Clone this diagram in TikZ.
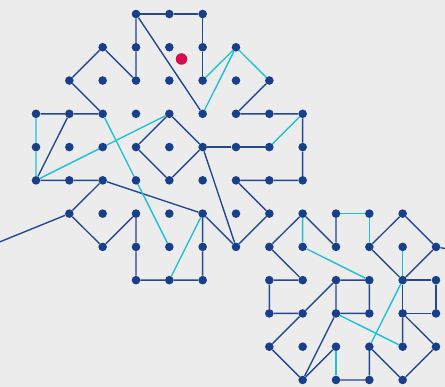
\documentclass[tikz,border=0pt]{standalone}
\usetikzlibrary{backgrounds}
\definecolor{bgc}{HTML}{ECECEC}
\definecolor{dotblue}{HTML}{173F8A}
\definecolor{lineblue}{HTML}{24498F}
\definecolor{cyanl}{HTML}{1EC1D7}
\definecolor{reddot}{HTML}{D90B4F}
\pgfdeclarelayer{edges}
\pgfdeclarelayer{back}
\pgfsetlayers{back,edges,main}
\begin{document}
\begin{tikzpicture}[x=1pt,y=-1pt,
  dot/.style={circle,fill=dotblue,inner sep=0pt,minimum size=8.6pt},
  reddotstyle/.style={circle,fill=reddot,inner sep=0pt,minimum size=11.5pt},
  bl/.style={draw=lineblue,line width=1.4pt,line join=round},
  cy/.style={draw=cyanl,line width=1.4pt,line join=round}]
\useasboundingbox (0,0) rectangle (445,387);
\begin{pgfonlayer}{back}
\fill[bgc] (0,0) rectangle (445,387);
\end{pgfonlayer}
\clip (0,0) rectangle (445,387);
\foreach \r/\a/\b in {0/3/5,1/2/6,2/1/7,3/0/8,4/0/8,5/0/8,6/1/11,7/2/12,8/3/5,8/7/12,9/7/12,10/7/12,11/8/11}{
  \foreach \c in {\a,...,\b}{
    \node[dot] (d-\c-\r) at ({36+33.333*\c},{14+33.27*\r}) {};
  }
}
\node[reddotstyle] (red) at (181.5,59) {};
\coordinate (offleft) at (-30,254);
\coordinate (offright) at (470,253);
\begin{pgfonlayer}{edges}
% cluster 1 blue
\draw[bl] (d-3-0) -- (d-4-0) -- (d-5-0) -- (d-5-1) -- (d-5-2);
\draw[bl] (d-3-0) -- (d-3-1) -- (d-3-2) -- (d-2-1) -- (d-1-2) -- (d-2-3) -- (d-1-3) -- (d-0-3);
\draw[bl] (d-3-0) -- (d-5-3);
\draw[bl] (d-1-3) -- (d-0-5) -- (d-1-5) -- (d-2-5) -- (d-1-6) -- (d-2-7) -- (d-3-6) -- (d-3-7) -- (d-3-8) -- (d-4-8) -- (d-5-8) -- (d-5-7) -- (d-5-6) -- (d-6-7) -- (d-7-6) -- (d-6-5) -- (d-7-5) -- (d-8-5) -- (d-8-4) -- (d-8-3) -- (d-7-3) -- (d-6-3) -- (d-7-2);
\draw[bl] (d-4-3) -- (d-3-4) -- (d-4-5) -- (d-5-4) -- (d-4-3);
\draw[bl] (d-5-4) -- (d-6-4) -- (d-7-4);
\draw[bl] (d-5-4) -- (d-6-7);
\draw[bl] (d-2-5) -- (d-5-6);
\draw[bl] (d-1-6) -- (offleft);
% cluster 1 cyan
\draw[cy] (d-0-3) -- (d-0-4) -- (d-0-5) -- (d-4-3);
\draw[cy] (d-2-3) -- (d-4-7);
\draw[cy] (d-5-2) -- (d-6-1) -- (d-5-3);
\draw[cy] (d-6-1) -- (d-7-2);
\draw[cy] (d-7-4) -- (d-8-3);
\draw[cy] (d-5-6) -- (d-4-8);
% cluster 2 blue
\draw[bl] (d-7-7) -- (d-8-6) -- (d-9-7) -- (d-9-6);
\draw[bl] (d-7-7) -- (d-8-8) -- (d-7-8) -- (d-7-9) -- (d-8-9) -- (d-9-8) -- (d-10-8) -- (d-10-9) -- (d-9-9) -- (d-9-8);
\draw[bl] (d-8-9) -- (d-7-10) -- (d-8-11) -- (d-9-9);
\draw[bl] (d-8-11) -- (d-9-10);
\draw[bl] (d-9-11) -- (d-10-11) -- (d-10-10) -- (d-11-11) -- (d-12-10) -- (d-11-9) -- (d-11-10);
\draw[bl] (d-11-9) -- (d-11-8) -- (d-12-8) -- (d-12-9) -- (d-11-9);
\draw[bl] (d-11-8) -- (d-10-7) -- (d-11-6) -- (d-12-7) -- (d-11-8);
\draw[bl] (d-12-7) -- (offright);
% cluster 2 cyan
\draw[cy] (d-8-6) -- (d-8-7) -- (d-10-8);
\draw[cy] (d-9-6) -- (d-10-6) -- (d-10-7);
\draw[cy] (d-10-10) -- (d-11-8);
\draw[cy] (d-9-9) -- (d-11-10);
\draw[cy] (d-9-10) -- (d-9-11);
\draw[cy] (d-11-7) -- (d-11-8);
\end{pgfonlayer}
\end{tikzpicture}
\end{document}
